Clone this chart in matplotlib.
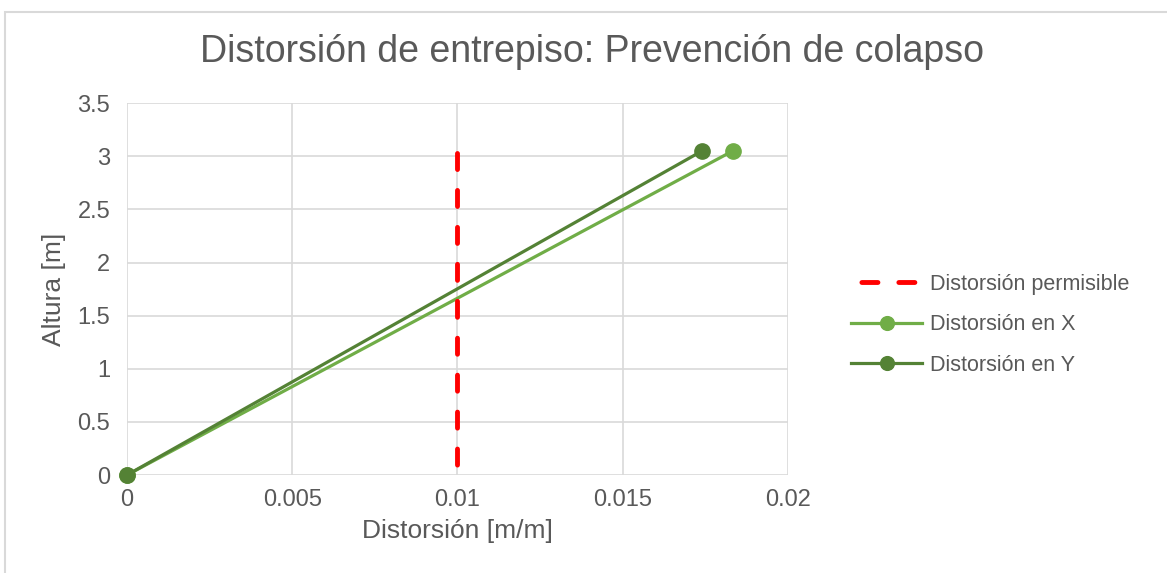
import matplotlib.pyplot as plt
from matplotlib.patches import Rectangle

plt.rcParams['font.family'] = ['Liberation Sans', 'DejaVu Sans']

altura = [0, 3.05]
dist_x = [0, 0.01833]
dist_y = [0, 0.0174]
limite = 0.01
limite_y = [0, 3.05]

x_ticks = [0, 0.005, 0.01, 0.015, 0.02]
x_labels = ['0', '0.005', '0.01', '0.015', '0.02']
y_ticks = [0, 0.5, 1, 1.5, 2, 2.5, 3, 3.5]
y_labels = ['0', '0.5', '1', '1.5', '2', '2.5', '3', '3.5']

gris = '#595959'

fig = plt.figure(figsize=(11.67, 5.73), dpi=100)
fig.patches.append(Rectangle((5 / 1167, -0.05), 1.0, 1.05 - 12 / 573, transform=fig.transFigure,
                             fill=False, edgecolor='#d9d9d9', linewidth=1.5))
ax = fig.add_axes([0.1088, 0.171, 0.5664, 0.649])

ax.plot(dist_x, altura, color='#70AD47', lw=2.3, marker='o', ms=11, label='Distorsión en X',
        zorder=3, clip_on=False)
ax.plot(dist_y, altura, color='#548235', lw=2.3, marker='o', ms=11, label='Distorsión en Y',
        zorder=3, clip_on=False)
ax.plot([limite, limite], limite_y, color='#FF0000', lw=3.5, ls=(5.46, (3.3, 4.3)),
        dash_capstyle='round', label='Distorsión permisible', zorder=4)

ax.set_xlim(0, 0.02)
ax.set_ylim(0, 3.5)
ax.set_xticks(x_ticks)
ax.set_xticklabels(x_labels)
ax.set_yticks(y_ticks)
ax.set_yticklabels(y_labels)
ax.grid(True, color='#d9d9d9', lw=1.2)
ax.set_axisbelow(True)
for s in ax.spines.values():
    s.set_visible(False)
ax.tick_params(axis='y', length=0, labelsize=17, colors=gris, pad=12)
ax.tick_params(axis='x', length=0, labelsize=17, colors=gris, pad=10)

fig.text(0.507, 0.91, 'Distorsión de entrepiso: Prevención de colapso', fontsize=27,
         color=gris, ha='center', va='center')
ax.set_xlabel('Distorsión [m/m]', fontsize=19, color=gris, labelpad=6)
ax.set_ylabel('Altura [m]', fontsize=19, color=gris, labelpad=8)

h, l = ax.get_legend_handles_labels()
order = [2, 0, 1]
fig.legend([h[i] for i in order], [l[i] for i in order], loc='center left',
           bbox_to_anchor=(0.720, 0.433), frameon=False, fontsize=15.5, borderpad=0,
           labelcolor=gris, handlelength=3.3, handletextpad=0.35, labelspacing=0.9,
           markerscale=0.9)

fig.savefig('out.png', dpi=100)
